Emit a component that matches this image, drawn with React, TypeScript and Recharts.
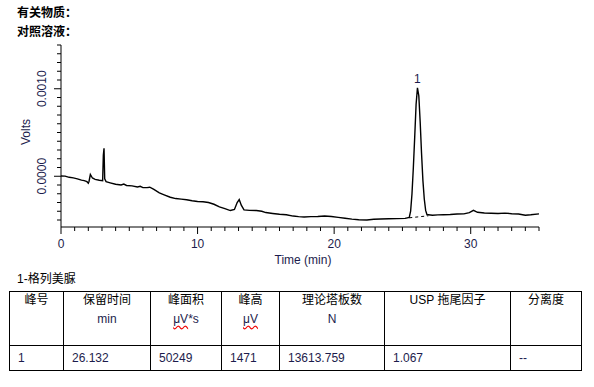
import {
  Line,
  LineChart,
  ReferenceDot,
  XAxis,
  YAxis,
} from "recharts";

// retention time (min) and detector signal (V)
const times = [
  0, 0.3, 0.6, 0.9, 1.2, 1.5, 1.7, 1.9, 2.0, 2.05, 2.15, 2.3, 2.5, 2.8, 3.05,
  3.1, 3.15, 3.2, 3.3, 3.6, 4.0, 4.4, 4.6, 4.8, 5.2, 5.6, 5.8, 6.0, 6.3, 6.5,
  6.8, 7.2, 7.6, 8.0, 8.4, 8.8, 9.2, 9.6, 10.0, 10.4, 10.8, 11.2, 11.6, 12.0,
  12.4, 12.7, 12.9, 13.05, 13.2, 13.4, 13.8, 14.3, 14.7, 15.0, 15.5, 16.0,
  16.5, 17.0, 17.4, 17.8, 18.3, 18.8, 19.3, 19.8, 20.3, 20.8, 21.3, 21.8,
  22.4, 22.9, 23.4, 24.0, 24.6, 25.2, 25.5, 25.6, 25.7, 25.8, 25.9, 26.0,
  26.1, 26.2, 26.3, 26.4, 26.5, 26.6, 26.7, 26.8, 26.9, 27.2, 27.6, 28.0,
  28.5, 29.0, 29.5, 29.9, 30.2, 30.5, 31.0, 31.5, 32.0, 32.5, 33.0, 33.5,
  34.0, 34.4, 35.0,
];

const volts = [
  0.000003, 0.000002, -0.000012, -0.000018, -0.00003, -0.000045, -0.00005,
  -0.000062, -0.00008, -0.00006, 0.00002, -0.00002, -0.000035, -0.000046,
  -0.00005, 0.00024, 0.00032, -0.00003, -0.000062, -0.000075, -0.000092,
  -0.0001, -0.00009, -0.000105, -0.00011, -0.000122, -0.000115, -0.00013,
  -0.00013, -0.000125, -0.00015, -0.00019, -0.000215, -0.00024, -0.000255,
  -0.000262, -0.000268, -0.00028, -0.000288, -0.000292, -0.0003, -0.00032,
  -0.00035, -0.00037, -0.000392, -0.00038, -0.0003, -0.000265, -0.00033,
  -0.000385, -0.00039, -0.000392, -0.0004, -0.000415, -0.000425, -0.000435,
  -0.00044, -0.000455, -0.000462, -0.000465, -0.000462, -0.00046, -0.000455,
  -0.00046, -0.00047, -0.00048, -0.00049, -0.000497, -0.0005, -0.000492,
  -0.000488, -0.000485, -0.000484, -0.000482, -0.00047, -0.0004, -0.0002,
  0.0001, 0.00045, 0.00082, 0.00101, 0.00092, 0.00062, 0.00026, -0.00005,
  -0.00026, -0.00039, -0.00044, -0.00044, -0.000445, -0.000442, -0.00044,
  -0.000437, -0.000432, -0.00043, -0.000415, -0.00039, -0.000412, -0.00042,
  -0.000423, -0.000425, -0.000422, -0.000428, -0.000432, -0.000445,
  -0.00044, -0.00043,
];

// integration baseline under peak 1
const baseTimes = [25.5, 26.9];
const baseVolts = [-0.000475, -0.000452];

const peakTime = 26.1;
const peakVolts = 0.00101;
const peakName = "1";

const xTicks = [
  0, 1, 2, 3, 4, 5, 6, 7, 8, 9, 10, 11, 12, 13, 14, 15, 16, 17, 18, 19, 20, 21,
  22, 23, 24, 25, 26, 27, 28, 29, 30, 31, 32, 33, 34, 35,
];
const xMajor = [0, 10, 20, 30];
const yTicks = [
  -0.0005, -0.0004, -0.0003, -0.0002, -0.0001, 0, 0.0001, 0.0002, 0.0003,
  0.0004, 0.0005, 0.0006, 0.0007, 0.0008, 0.0009, 0.001, 0.0011, 0.0012,
  0.0013, 0.0014, 0.0015,
];
const yMajor = [0, 0.001];

const headers = [
  ["峰号", ""],
  ["保留时间", "min"],
  ["峰面积", "μV*s"],
  ["峰高", "μV"],
  ["理论塔板数", "N"],
  ["USP 拖尾因子", ""],
  ["分离度", ""],
];
const rowValues = ["1", "26.132", "50249", "1471", "13613.759", "1.067", "--"];
const colWidths = [54, 87, 71, 58, 105, 126, 71];

const trace = times.map((t, i) => ({ t, v: volts[i] }));
const baseline = baseTimes.map((t, i) => ({ t, v: baseVolts[i] }));

const navy = "#1c1c4c";
const font = '"Liberation Sans", Arial, "Noto Sans CJK SC", sans-serif';

const isMajor = (list: number[], v: number) =>
  list.some((m) => Math.abs(m - v) < 1e-9);

function XTick({ x, y, payload }: any) {
  const major = isMajor(xMajor, payload.value);
  return (
    <g>
      <line x1={x} x2={x} y1={y} y2={y + (major ? 7 : 4)} stroke="#000" />
      {major && (
        <text x={x} y={y + 21} textAnchor="middle" fontSize={12} fill={navy} fontFamily={font}>
          {payload.value}
        </text>
      )}
    </g>
  );
}

function YTick({ x, y, payload }: any) {
  const major = isMajor(yMajor, payload.value);
  const tx = 42;
  return (
    <g>
      <line x1={x - (major ? 7 : 4)} x2={x} y1={y} y2={y} stroke="#000" />
      {major && (
        <text
          x={tx}
          y={y}
          transform={`rotate(-90 ${tx} ${y})`}
          textAnchor="middle"
          dominantBaseline="central"
          fontSize={12}
          fill={navy}
          fontFamily={font}
        >
          {payload.value.toFixed(4)}
        </text>
      )}
    </g>
  );
}

function Chromatogram() {
  return (
    <LineChart
      width={594}
      height={270}
      data={trace}
      margin={{ top: 45, right: 55, bottom: 3, left: 0 }}
    >
      <XAxis
        dataKey="t"
        type="number"
        domain={[0, 35]}
        ticks={xTicks}
        interval={0}
        tickSize={0}
        tickMargin={0}
        tickLine={false}
        tick={<XTick />}
        height={40}
        axisLine={{ stroke: "#000" }}
        label={{
          value: "Time (min)",
          content: ({ viewBox }: any) => (
            <text
              x={viewBox.x + viewBox.width / 2 + 3}
              y={viewBox.y + 37}
              textAnchor="middle"
              fontSize={12}
              fill={navy}
              fontFamily={font}
            >
              Time (min)
            </text>
          ),
        }}
      />
      <YAxis
        type="number"
        domain={[-0.00058, 0.0015]}
        ticks={yTicks}
        interval={0}
        tickSize={0}
        tickMargin={0}
        tickLine={false}
        tick={<YTick />}
        width={61}
        axisLine={{ stroke: "#000" }}
        label={{
          value: "Volts",
          content: () => (
            <text
              x={26}
              y={132}
              transform="rotate(-90 26 132)"
              textAnchor="middle"
              dominantBaseline="central"
              fontSize={12}
              fill={navy}
              fontFamily={font}
            >
              Volts
            </text>
          ),
        }}
      />
      <Line
        data={baseline}
        dataKey="v"
        type="linear"
        stroke="#000"
        strokeWidth={1}
        strokeDasharray="3 3"
        dot={false}
        isAnimationActive={false}
      />
      <Line
        dataKey="v"
        type="linear"
        stroke="#000"
        strokeWidth={1.4}
        dot={false}
        isAnimationActive={false}
      />
      <ReferenceDot
        x={peakTime}
        y={peakVolts}
        r={0}
        stroke="none"
        label={{ value: peakName, position: "top", offset: 5, fontSize: 12, fill: navy, fontFamily: font }}
      />
    </LineChart>
  );
}

export default function App() {
  const cell = { border: "1px solid #000", padding: 0, fontSize: 12, color: "#111" };
  return (
    <div
      style={{
        position: "absolute",
        left: 0,
        top: 0,
        width: 594,
        height: 387,
        background: "#fff",
        fontFamily: font,
        overflow: "hidden",
      }}
    >
      <div style={{ position: "absolute", left: 17, top: 5, fontSize: 12, fontWeight: 700, lineHeight: "16px" }}>
        有关物质：
      </div>
      <div style={{ position: "absolute", left: 17, top: 24, fontSize: 12, fontWeight: 700, lineHeight: "16px" }}>
        对照溶液：
      </div>
      <div style={{ position: "absolute", left: 0, top: 0 }}>
        <Chromatogram />
      </div>
      <div style={{ position: "absolute", left: 17, top: 271, fontSize: 12, lineHeight: "16px" }}>
        1-格列美脲
      </div>
      <table
        style={{
          position: "absolute",
          left: 9,
          top: 291,
          borderCollapse: "collapse",
          tableLayout: "fixed",
          width: 572,
        }}
      >
        <colgroup>
          {colWidths.map((w, i) => (
            <col key={i} style={{ width: w }} />
          ))}
        </colgroup>
        <tbody>
          <tr style={{ height: 54 }}>
            {headers.map(([a, b], i) => (
              <td key={i} style={{ ...cell, verticalAlign: "top", textAlign: "center" }}>
                <div style={{ lineHeight: "16px", color: "#000" }}>{a}</div>
                {b && (
                  <div style={{ lineHeight: "16px", marginTop: 3, color: navy }}>
                    {b.startsWith("μV") ? (
                      <>
                        <span
                          style={{
                            textDecoration: "underline wavy #e00",
                            textDecorationSkipInk: "none",
                            textUnderlineOffset: 2,
                          }}
                        >
                          μV
                        </span>
                        {b.slice(2)}
                      </>
                    ) : (
                      b
                    )}
                  </div>
                )}
              </td>
            ))}
          </tr>
          <tr style={{ height: 25 }}>
            {rowValues.map((v, i) => (
              <td key={i} style={{ ...cell, paddingLeft: 8, textAlign: "left", color: navy }}>
                {v}
              </td>
            ))}
          </tr>
        </tbody>
      </table>
    </div>
  );
}
